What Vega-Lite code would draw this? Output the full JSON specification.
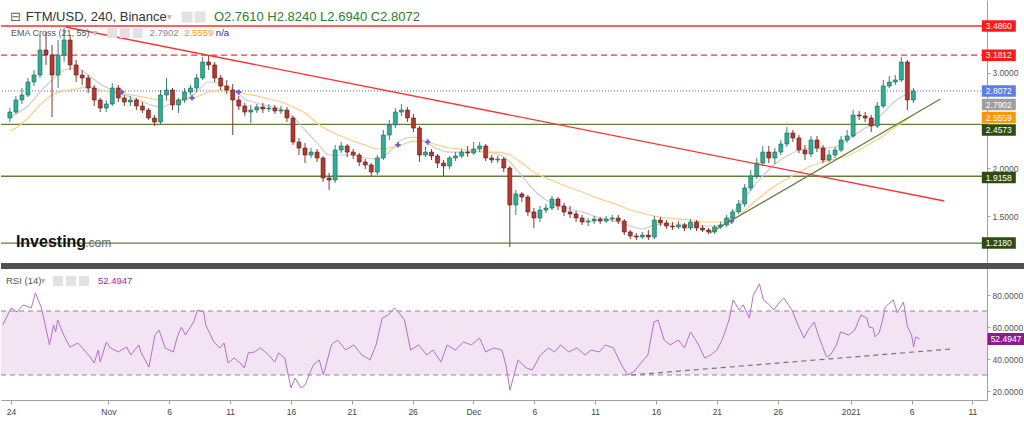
{
"$schema": "https://vega.github.io/schema/vega-lite/v6.json",
"padding": 0,
"background": "#ffffff",
"spacing": 0,
"config": {"view": {"stroke": null}, "font": "Liberation Sans"},
"datasets": {
"candles": [
{"t":"2020-10-23T12:00Z","o":2.525,"h":2.629,"l":2.483,"c":2.587},
{"t":"2020-10-24T00:00Z","o":2.587,"h":2.755,"l":2.567,"c":2.713},
{"t":"2020-10-24T12:00Z","o":2.713,"h":2.838,"l":2.671,"c":2.765},
{"t":"2020-10-25T00:00Z","o":2.765,"h":2.943,"l":2.744,"c":2.901},
{"t":"2020-10-25T12:00Z","o":2.901,"h":3.026,"l":2.859,"c":2.974},
{"t":"2020-10-26T00:00Z","o":2.974,"h":3.392,"l":2.943,"c":3.235},
{"t":"2020-10-26T12:00Z","o":3.235,"h":3.423,"l":3.079,"c":3.183},
{"t":"2020-10-27T00:00Z","o":3.183,"h":3.288,"l":2.535,"c":2.974},
{"t":"2020-10-27T12:00Z","o":2.974,"h":3.340,"l":2.838,"c":3.183},
{"t":"2020-10-28T00:00Z","o":3.183,"h":3.465,"l":3.110,"c":3.340},
{"t":"2020-10-28T12:00Z","o":3.340,"h":3.392,"l":3.026,"c":3.079},
{"t":"2020-10-29T00:00Z","o":3.079,"h":3.131,"l":2.901,"c":2.974},
{"t":"2020-10-29T12:00Z","o":2.974,"h":3.026,"l":2.870,"c":2.943},
{"t":"2020-10-30T00:00Z","o":2.943,"h":2.974,"l":2.786,"c":2.838},
{"t":"2020-10-30T12:00Z","o":2.838,"h":2.870,"l":2.650,"c":2.713},
{"t":"2020-10-31T00:00Z","o":2.713,"h":2.734,"l":2.587,"c":2.629},
{"t":"2020-10-31T12:00Z","o":2.629,"h":2.713,"l":2.587,"c":2.671},
{"t":"2020-11-01T00:00Z","o":2.671,"h":2.890,"l":2.650,"c":2.838},
{"t":"2020-11-01T12:00Z","o":2.838,"h":2.870,"l":2.692,"c":2.734},
{"t":"2020-11-02T00:00Z","o":2.734,"h":2.765,"l":2.650,"c":2.692},
{"t":"2020-11-02T12:00Z","o":2.692,"h":2.755,"l":2.650,"c":2.713},
{"t":"2020-11-03T00:00Z","o":2.713,"h":2.734,"l":2.608,"c":2.650},
{"t":"2020-11-03T12:00Z","o":2.650,"h":2.692,"l":2.577,"c":2.608},
{"t":"2020-11-04T00:00Z","o":2.608,"h":2.629,"l":2.504,"c":2.525},
{"t":"2020-11-04T12:00Z","o":2.525,"h":2.556,"l":2.441,"c":2.483},
{"t":"2020-11-05T00:00Z","o":2.483,"h":2.817,"l":2.462,"c":2.765},
{"t":"2020-11-05T12:00Z","o":2.765,"h":2.943,"l":2.713,"c":2.817},
{"t":"2020-11-06T00:00Z","o":2.817,"h":2.838,"l":2.608,"c":2.661},
{"t":"2020-11-06T12:00Z","o":2.661,"h":2.734,"l":2.577,"c":2.713},
{"t":"2020-11-07T00:00Z","o":2.713,"h":2.838,"l":2.681,"c":2.796},
{"t":"2020-11-07T12:00Z","o":2.796,"h":2.870,"l":2.765,"c":2.838},
{"t":"2020-11-08T00:00Z","o":2.838,"h":2.984,"l":2.796,"c":2.943},
{"t":"2020-11-08T12:00Z","o":2.943,"h":3.162,"l":2.922,"c":3.110},
{"t":"2020-11-09T00:00Z","o":3.110,"h":3.173,"l":3.026,"c":3.079},
{"t":"2020-11-09T12:00Z","o":3.079,"h":3.110,"l":2.901,"c":2.943},
{"t":"2020-11-10T00:00Z","o":2.943,"h":2.974,"l":2.817,"c":2.859},
{"t":"2020-11-10T12:00Z","o":2.859,"h":2.922,"l":2.776,"c":2.817},
{"t":"2020-11-11T00:00Z","o":2.817,"h":2.880,"l":2.347,"c":2.713},
{"t":"2020-11-11T12:00Z","o":2.713,"h":2.755,"l":2.608,"c":2.650},
{"t":"2020-11-12T00:00Z","o":2.650,"h":2.681,"l":2.546,"c":2.587},
{"t":"2020-11-12T12:00Z","o":2.587,"h":2.661,"l":2.472,"c":2.608},
{"t":"2020-11-13T00:00Z","o":2.608,"h":2.671,"l":2.577,"c":2.640},
{"t":"2020-11-13T12:00Z","o":2.640,"h":2.681,"l":2.577,"c":2.619},
{"t":"2020-11-14T00:00Z","o":2.619,"h":2.671,"l":2.587,"c":2.629},
{"t":"2020-11-14T12:00Z","o":2.629,"h":2.661,"l":2.567,"c":2.598},
{"t":"2020-11-15T00:00Z","o":2.598,"h":2.650,"l":2.567,"c":2.608},
{"t":"2020-11-15T12:00Z","o":2.608,"h":2.640,"l":2.483,"c":2.525},
{"t":"2020-11-16T00:00Z","o":2.525,"h":2.546,"l":2.243,"c":2.274},
{"t":"2020-11-16T12:00Z","o":2.274,"h":2.316,"l":2.138,"c":2.211},
{"t":"2020-11-17T00:00Z","o":2.211,"h":2.264,"l":2.054,"c":2.138},
{"t":"2020-11-17T12:00Z","o":2.138,"h":2.211,"l":2.107,"c":2.169},
{"t":"2020-11-18T00:00Z","o":2.169,"h":2.201,"l":2.065,"c":2.107},
{"t":"2020-11-18T12:00Z","o":2.107,"h":2.128,"l":1.856,"c":1.898},
{"t":"2020-11-19T00:00Z","o":1.898,"h":1.950,"l":1.772,"c":1.877},
{"t":"2020-11-19T12:00Z","o":1.877,"h":2.243,"l":1.846,"c":2.190},
{"t":"2020-11-20T00:00Z","o":2.190,"h":2.274,"l":2.159,"c":2.232},
{"t":"2020-11-20T12:00Z","o":2.232,"h":2.253,"l":2.117,"c":2.169},
{"t":"2020-11-21T00:00Z","o":2.169,"h":2.201,"l":2.096,"c":2.138},
{"t":"2020-11-21T12:00Z","o":2.138,"h":2.159,"l":2.023,"c":2.065},
{"t":"2020-11-22T00:00Z","o":2.065,"h":2.096,"l":1.992,"c":2.034},
{"t":"2020-11-22T12:00Z","o":2.034,"h":2.054,"l":1.919,"c":1.960},
{"t":"2020-11-23T00:00Z","o":1.960,"h":2.138,"l":1.929,"c":2.107},
{"t":"2020-11-23T12:00Z","o":2.107,"h":2.399,"l":2.086,"c":2.347},
{"t":"2020-11-24T00:00Z","o":2.347,"h":2.504,"l":2.295,"c":2.452},
{"t":"2020-11-24T12:00Z","o":2.452,"h":2.629,"l":2.420,"c":2.587},
{"t":"2020-11-25T00:00Z","o":2.587,"h":2.671,"l":2.546,"c":2.608},
{"t":"2020-11-25T12:00Z","o":2.608,"h":2.640,"l":2.483,"c":2.525},
{"t":"2020-11-26T00:00Z","o":2.525,"h":2.567,"l":2.378,"c":2.420},
{"t":"2020-11-26T12:00Z","o":2.420,"h":2.441,"l":2.065,"c":2.138},
{"t":"2020-11-27T00:00Z","o":2.138,"h":2.222,"l":2.117,"c":2.169},
{"t":"2020-11-27T12:00Z","o":2.169,"h":2.201,"l":2.086,"c":2.128},
{"t":"2020-11-28T00:00Z","o":2.128,"h":2.149,"l":2.002,"c":2.054},
{"t":"2020-11-28T12:00Z","o":2.054,"h":2.086,"l":1.908,"c":2.023},
{"t":"2020-11-29T00:00Z","o":2.023,"h":2.128,"l":1.992,"c":2.107},
{"t":"2020-11-29T12:00Z","o":2.107,"h":2.169,"l":2.075,"c":2.128},
{"t":"2020-11-30T00:00Z","o":2.128,"h":2.201,"l":2.107,"c":2.169},
{"t":"2020-11-30T12:00Z","o":2.169,"h":2.232,"l":2.117,"c":2.159},
{"t":"2020-12-01T00:00Z","o":2.159,"h":2.274,"l":2.138,"c":2.201},
{"t":"2020-12-01T12:00Z","o":2.201,"h":2.274,"l":2.169,"c":2.232},
{"t":"2020-12-02T00:00Z","o":2.232,"h":2.253,"l":2.075,"c":2.107},
{"t":"2020-12-02T12:00Z","o":2.107,"h":2.138,"l":2.054,"c":2.086},
{"t":"2020-12-03T00:00Z","o":2.086,"h":2.128,"l":2.054,"c":2.096},
{"t":"2020-12-03T12:00Z","o":2.096,"h":2.117,"l":1.960,"c":2.002},
{"t":"2020-12-04T00:00Z","o":2.002,"h":2.023,"l":1.177,"c":1.616},
{"t":"2020-12-04T12:00Z","o":1.616,"h":1.772,"l":1.511,"c":1.731},
{"t":"2020-12-05T00:00Z","o":1.731,"h":1.752,"l":1.647,"c":1.699},
{"t":"2020-12-05T12:00Z","o":1.699,"h":1.720,"l":1.501,"c":1.543},
{"t":"2020-12-06T00:00Z","o":1.543,"h":1.584,"l":1.375,"c":1.480},
{"t":"2020-12-06T12:00Z","o":1.480,"h":1.605,"l":1.438,"c":1.563},
{"t":"2020-12-07T00:00Z","o":1.563,"h":1.626,"l":1.532,"c":1.584},
{"t":"2020-12-07T12:00Z","o":1.584,"h":1.710,"l":1.563,"c":1.678},
{"t":"2020-12-08T00:00Z","o":1.678,"h":1.699,"l":1.563,"c":1.605},
{"t":"2020-12-08T12:00Z","o":1.605,"h":1.637,"l":1.501,"c":1.543},
{"t":"2020-12-09T00:00Z","o":1.543,"h":1.605,"l":1.480,"c":1.522},
{"t":"2020-12-09T12:00Z","o":1.522,"h":1.553,"l":1.438,"c":1.480},
{"t":"2020-12-10T00:00Z","o":1.480,"h":1.511,"l":1.407,"c":1.438},
{"t":"2020-12-10T12:00Z","o":1.438,"h":1.480,"l":1.396,"c":1.448},
{"t":"2020-12-11T00:00Z","o":1.448,"h":1.501,"l":1.417,"c":1.469},
{"t":"2020-12-11T12:00Z","o":1.469,"h":1.490,"l":1.417,"c":1.448},
{"t":"2020-12-12T00:00Z","o":1.448,"h":1.501,"l":1.428,"c":1.469},
{"t":"2020-12-12T12:00Z","o":1.469,"h":1.511,"l":1.438,"c":1.480},
{"t":"2020-12-13T00:00Z","o":1.480,"h":1.511,"l":1.417,"c":1.448},
{"t":"2020-12-13T12:00Z","o":1.448,"h":1.469,"l":1.302,"c":1.334},
{"t":"2020-12-14T00:00Z","o":1.334,"h":1.354,"l":1.260,"c":1.292},
{"t":"2020-12-14T12:00Z","o":1.292,"h":1.323,"l":1.250,"c":1.281},
{"t":"2020-12-15T00:00Z","o":1.281,"h":1.334,"l":1.260,"c":1.302},
{"t":"2020-12-15T12:00Z","o":1.302,"h":1.354,"l":1.250,"c":1.281},
{"t":"2020-12-16T00:00Z","o":1.281,"h":1.501,"l":1.260,"c":1.459},
{"t":"2020-12-16T12:00Z","o":1.459,"h":1.490,"l":1.396,"c":1.428},
{"t":"2020-12-17T00:00Z","o":1.428,"h":1.459,"l":1.365,"c":1.396},
{"t":"2020-12-17T12:00Z","o":1.396,"h":1.438,"l":1.354,"c":1.386},
{"t":"2020-12-18T00:00Z","o":1.386,"h":1.448,"l":1.365,"c":1.407},
{"t":"2020-12-18T12:00Z","o":1.407,"h":1.428,"l":1.344,"c":1.375},
{"t":"2020-12-19T00:00Z","o":1.375,"h":1.469,"l":1.354,"c":1.438},
{"t":"2020-12-19T12:00Z","o":1.438,"h":1.459,"l":1.344,"c":1.375},
{"t":"2020-12-20T00:00Z","o":1.375,"h":1.407,"l":1.334,"c":1.354},
{"t":"2020-12-20T12:00Z","o":1.354,"h":1.375,"l":1.313,"c":1.334},
{"t":"2020-12-21T00:00Z","o":1.334,"h":1.407,"l":1.313,"c":1.386},
{"t":"2020-12-21T12:00Z","o":1.386,"h":1.438,"l":1.365,"c":1.407},
{"t":"2020-12-22T00:00Z","o":1.407,"h":1.511,"l":1.386,"c":1.480},
{"t":"2020-12-22T12:00Z","o":1.480,"h":1.574,"l":1.448,"c":1.543},
{"t":"2020-12-23T00:00Z","o":1.543,"h":1.668,"l":1.522,"c":1.626},
{"t":"2020-12-23T12:00Z","o":1.626,"h":1.835,"l":1.595,"c":1.793},
{"t":"2020-12-24T00:00Z","o":1.793,"h":1.981,"l":1.762,"c":1.919},
{"t":"2020-12-24T12:00Z","o":1.919,"h":2.107,"l":1.887,"c":2.054},
{"t":"2020-12-25T00:00Z","o":2.054,"h":2.232,"l":2.023,"c":2.169},
{"t":"2020-12-25T12:00Z","o":2.169,"h":2.232,"l":2.054,"c":2.107},
{"t":"2020-12-26T00:00Z","o":2.107,"h":2.211,"l":2.044,"c":2.169},
{"t":"2020-12-26T12:00Z","o":2.169,"h":2.295,"l":2.138,"c":2.253},
{"t":"2020-12-27T00:00Z","o":2.253,"h":2.431,"l":2.222,"c":2.368},
{"t":"2020-12-27T12:00Z","o":2.368,"h":2.399,"l":2.274,"c":2.316},
{"t":"2020-12-28T00:00Z","o":2.316,"h":2.347,"l":2.159,"c":2.190},
{"t":"2020-12-28T12:00Z","o":2.190,"h":2.243,"l":2.086,"c":2.149},
{"t":"2020-12-29T00:00Z","o":2.149,"h":2.337,"l":2.117,"c":2.295},
{"t":"2020-12-29T12:00Z","o":2.295,"h":2.337,"l":2.169,"c":2.211},
{"t":"2020-12-30T00:00Z","o":2.211,"h":2.243,"l":2.054,"c":2.086},
{"t":"2020-12-30T12:00Z","o":2.086,"h":2.190,"l":2.065,"c":2.138},
{"t":"2020-12-31T00:00Z","o":2.138,"h":2.222,"l":2.107,"c":2.190},
{"t":"2020-12-31T12:00Z","o":2.190,"h":2.337,"l":2.169,"c":2.295},
{"t":"2021-01-01T00:00Z","o":2.295,"h":2.399,"l":2.264,"c":2.337},
{"t":"2021-01-01T12:00Z","o":2.337,"h":2.608,"l":2.316,"c":2.556},
{"t":"2021-01-02T00:00Z","o":2.556,"h":2.598,"l":2.504,"c":2.546},
{"t":"2021-01-02T12:00Z","o":2.546,"h":2.587,"l":2.483,"c":2.525},
{"t":"2021-01-03T00:00Z","o":2.525,"h":2.556,"l":2.378,"c":2.441},
{"t":"2021-01-03T12:00Z","o":2.441,"h":2.692,"l":2.420,"c":2.650},
{"t":"2021-01-04T00:00Z","o":2.650,"h":2.922,"l":2.629,"c":2.859},
{"t":"2021-01-04T12:00Z","o":2.859,"h":2.964,"l":2.838,"c":2.901},
{"t":"2021-01-05T00:00Z","o":2.901,"h":2.974,"l":2.870,"c":2.922},
{"t":"2021-01-05T12:00Z","o":2.922,"h":3.162,"l":2.901,"c":3.110},
{"t":"2021-01-06T00:00Z","o":3.110,"h":3.131,"l":2.608,"c":2.713},
{"t":"2021-01-06T12:00Z","o":2.713,"h":2.838,"l":2.681,"c":2.8072}
],
"ema": [
{"t":"2020-10-23T12:00Z","e21":2.525,"e55":2.389},
{"t":"2020-10-24T00:00Z","e21":2.567,"e55":2.420},
{"t":"2020-10-25T00:00Z","e21":2.650,"e55":2.525},
{"t":"2020-10-26T00:00Z","e21":2.796,"e55":2.661},
{"t":"2020-10-27T00:00Z","e21":2.922,"e55":2.765},
{"t":"2020-10-28T00:00Z","e21":3.026,"e55":2.807},
{"t":"2020-10-29T00:00Z","e21":3.047,"e55":2.828},
{"t":"2020-10-30T00:00Z","e21":2.974,"e55":2.849},
{"t":"2020-10-31T00:00Z","e21":2.880,"e55":2.817},
{"t":"2020-11-01T00:00Z","e21":2.817,"e55":2.796},
{"t":"2020-11-02T00:00Z","e21":2.765,"e55":2.776},
{"t":"2020-11-03T00:00Z","e21":2.723,"e55":2.755},
{"t":"2020-11-04T00:00Z","e21":2.671,"e55":2.734},
{"t":"2020-11-05T00:00Z","e21":2.640,"e55":2.713},
{"t":"2020-11-06T00:00Z","e21":2.681,"e55":2.713},
{"t":"2020-11-07T00:00Z","e21":2.713,"e55":2.723},
{"t":"2020-11-08T00:00Z","e21":2.796,"e55":2.744},
{"t":"2020-11-09T00:00Z","e21":2.901,"e55":2.796},
{"t":"2020-11-10T00:00Z","e21":2.880,"e55":2.817},
{"t":"2020-11-11T00:00Z","e21":2.828,"e55":2.807},
{"t":"2020-11-12T00:00Z","e21":2.723,"e55":2.776},
{"t":"2020-11-13T00:00Z","e21":2.681,"e55":2.755},
{"t":"2020-11-14T00:00Z","e21":2.650,"e55":2.723},
{"t":"2020-11-15T00:00Z","e21":2.619,"e55":2.692},
{"t":"2020-11-16T00:00Z","e21":2.535,"e55":2.640},
{"t":"2020-11-17T00:00Z","e21":2.399,"e55":2.577},
{"t":"2020-11-18T00:00Z","e21":2.264,"e55":2.472},
{"t":"2020-11-19T00:00Z","e21":2.138,"e55":2.389},
{"t":"2020-11-20T00:00Z","e21":2.138,"e55":2.337},
{"t":"2020-11-21T00:00Z","e21":2.138,"e55":2.284},
{"t":"2020-11-22T00:00Z","e21":2.107,"e55":2.243},
{"t":"2020-11-23T00:00Z","e21":2.096,"e55":2.201},
{"t":"2020-11-24T00:00Z","e21":2.169,"e55":2.211},
{"t":"2020-11-25T00:00Z","e21":2.295,"e55":2.243},
{"t":"2020-11-26T00:00Z","e21":2.326,"e55":2.284},
{"t":"2020-11-27T00:00Z","e21":2.274,"e55":2.274},
{"t":"2020-11-28T00:00Z","e21":2.201,"e55":2.243},
{"t":"2020-11-29T00:00Z","e21":2.169,"e55":2.211},
{"t":"2020-11-30T00:00Z","e21":2.169,"e55":2.201},
{"t":"2020-12-01T00:00Z","e21":2.180,"e55":2.180},
{"t":"2020-12-02T00:00Z","e21":2.169,"e55":2.169},
{"t":"2020-12-03T00:00Z","e21":2.149,"e55":2.169},
{"t":"2020-12-04T00:00Z","e21":2.065,"e55":2.138},
{"t":"2020-12-05T00:00Z","e21":1.919,"e55":2.054},
{"t":"2020-12-06T00:00Z","e21":1.772,"e55":1.960},
{"t":"2020-12-07T00:00Z","e21":1.668,"e55":1.898},
{"t":"2020-12-08T00:00Z","e21":1.616,"e55":1.846},
{"t":"2020-12-09T00:00Z","e21":1.574,"e55":1.793},
{"t":"2020-12-10T00:00Z","e21":1.543,"e55":1.752},
{"t":"2020-12-11T00:00Z","e21":1.501,"e55":1.699},
{"t":"2020-12-12T00:00Z","e21":1.469,"e55":1.657},
{"t":"2020-12-13T00:00Z","e21":1.438,"e55":1.616},
{"t":"2020-12-14T00:00Z","e21":1.396,"e55":1.563},
{"t":"2020-12-15T00:00Z","e21":1.365,"e55":1.532},
{"t":"2020-12-16T00:00Z","e21":1.407,"e55":1.501},
{"t":"2020-12-17T00:00Z","e21":1.417,"e55":1.480},
{"t":"2020-12-18T00:00Z","e21":1.417,"e55":1.469},
{"t":"2020-12-19T00:00Z","e21":1.407,"e55":1.459},
{"t":"2020-12-20T00:00Z","e21":1.396,"e55":1.438},
{"t":"2020-12-21T00:00Z","e21":1.396,"e55":1.438},
{"t":"2020-12-22T00:00Z","e21":1.438,"e55":1.448},
{"t":"2020-12-23T00:00Z","e21":1.616,"e55":1.501},
{"t":"2020-12-24T00:00Z","e21":1.772,"e55":1.616},
{"t":"2020-12-25T00:00Z","e21":1.919,"e55":1.720},
{"t":"2020-12-26T00:00Z","e21":2.044,"e55":1.814},
{"t":"2020-12-27T00:00Z","e21":2.128,"e55":1.887},
{"t":"2020-12-28T00:00Z","e21":2.190,"e55":1.960},
{"t":"2020-12-29T00:00Z","e21":2.211,"e55":2.023},
{"t":"2020-12-30T00:00Z","e21":2.211,"e55":2.065},
{"t":"2020-12-31T00:00Z","e21":2.222,"e55":2.096},
{"t":"2021-01-01T00:00Z","e21":2.295,"e55":2.128},
{"t":"2021-01-02T00:00Z","e21":2.378,"e55":2.190},
{"t":"2021-01-03T00:00Z","e21":2.462,"e55":2.264},
{"t":"2021-01-04T00:00Z","e21":2.577,"e55":2.337},
{"t":"2021-01-05T00:00Z","e21":2.702,"e55":2.431},
{"t":"2021-01-06T00:00Z","e21":2.776,"e55":2.514},
{"t":"2021-01-06T12:00Z","e21":2.7902,"e55":2.5559}
],
"rsi": [
{"t":"2020-10-23T08:00Z","r":61.3},{"t":"2020-10-24T00:00Z","r":71.9},{"t":"2020-10-24T12:00Z","r":69.4},{"t":"2020-10-25T00:00Z","r":73.8},{"t":"2020-10-25T16:00Z","r":71.9},{"t":"2020-10-26T00:00Z","r":81.3},{"t":"2020-10-26T12:00Z","r":71.9},{"t":"2020-10-27T04:00Z","r":48.8},{"t":"2020-10-27T12:00Z","r":61.3},{"t":"2020-10-27T16:00Z","r":56.9},{"t":"2020-10-27T20:00Z","r":64.4},{"t":"2020-10-28T08:00Z","r":55},{"t":"2020-10-28T20:00Z","r":47.5},{"t":"2020-10-29T12:00Z","r":50},{"t":"2020-10-30T12:00Z","r":41.3},{"t":"2020-10-30T20:00Z","r":37.5},{"t":"2020-10-31T04:00Z","r":45.6},{"t":"2020-10-31T08:00Z","r":38.1},{"t":"2020-10-31T20:00Z","r":50.6},{"t":"2020-11-01T04:00Z","r":46.9},{"t":"2020-11-01T20:00Z","r":44.4},{"t":"2020-11-02T12:00Z","r":47.5},{"t":"2020-11-02T20:00Z","r":42.5},{"t":"2020-11-03T12:00Z","r":48.8},{"t":"2020-11-03T16:00Z","r":44.4},{"t":"2020-11-04T08:00Z","r":35},{"t":"2020-11-04T20:00Z","r":55},{"t":"2020-11-05T04:00Z","r":58.1},{"t":"2020-11-05T16:00Z","r":46.9},{"t":"2020-11-06T08:00Z","r":44.4},{"t":"2020-11-06T16:00Z","r":53.8},{"t":"2020-11-07T00:00Z","r":60},{"t":"2020-11-07T08:00Z","r":55},{"t":"2020-11-08T00:00Z","r":63.1},{"t":"2020-11-08T08:00Z","r":70.6},{"t":"2020-11-08T20:00Z","r":69.4},{"t":"2020-11-09T00:00Z","r":61.3},{"t":"2020-11-09T16:00Z","r":50.6},{"t":"2020-11-10T04:00Z","r":46.9},{"t":"2020-11-10T12:00Z","r":50},{"t":"2020-11-10T20:00Z","r":37.5},{"t":"2020-11-11T08:00Z","r":40.6},{"t":"2020-11-11T20:00Z","r":37.5},{"t":"2020-11-12T04:00Z","r":34.4},{"t":"2020-11-12T12:00Z","r":43.8},{"t":"2020-11-13T00:00Z","r":44.4},{"t":"2020-11-13T12:00Z","r":46.9},{"t":"2020-11-14T04:00Z","r":42.5},{"t":"2020-11-14T16:00Z","r":38.1},{"t":"2020-11-15T00:00Z","r":43.8},{"t":"2020-11-15T12:00Z","r":40.6},{"t":"2020-11-16T00:00Z","r":21.9},{"t":"2020-11-16T08:00Z","r":28.1},{"t":"2020-11-16T20:00Z","r":21.9},{"t":"2020-11-17T04:00Z","r":23.8},{"t":"2020-11-17T20:00Z","r":36.3},{"t":"2020-11-18T08:00Z","r":39.4},{"t":"2020-11-18T16:00Z","r":30},{"t":"2020-11-19T08:00Z","r":48.8},{"t":"2020-11-19T20:00Z","r":51.9},{"t":"2020-11-20T12:00Z","r":45.6},{"t":"2020-11-21T04:00Z","r":48.8},{"t":"2020-11-21T20:00Z","r":42.5},{"t":"2020-11-22T12:00Z","r":39.4},{"t":"2020-11-23T00:00Z","r":48.8},{"t":"2020-11-23T12:00Z","r":65.6},{"t":"2020-11-24T00:00Z","r":67.5},{"t":"2020-11-24T12:00Z","r":71.9},{"t":"2020-11-24T20:00Z","r":69.4},{"t":"2020-11-25T08:00Z","r":64.4},{"t":"2020-11-25T20:00Z","r":45.6},{"t":"2020-11-26T12:00Z","r":48.8},{"t":"2020-11-27T04:00Z","r":42.5},{"t":"2020-11-27T16:00Z","r":45.6},{"t":"2020-11-28T08:00Z","r":38.1},{"t":"2020-11-28T20:00Z","r":48.8},{"t":"2020-11-29T12:00Z","r":45.6},{"t":"2020-11-30T04:00Z","r":50.6},{"t":"2020-11-30T20:00Z","r":48.8},{"t":"2020-12-01T12:00Z","r":53.1},{"t":"2020-12-02T00:00Z","r":44.4},{"t":"2020-12-02T16:00Z","r":46.9},{"t":"2020-12-03T08:00Z","r":45.6},{"t":"2020-12-03T16:00Z","r":36.3},{"t":"2020-12-04T00:00Z","r":20.6},{"t":"2020-12-04T08:00Z","r":30},{"t":"2020-12-04T16:00Z","r":39.4},{"t":"2020-12-05T08:00Z","r":34.4},{"t":"2020-12-05T20:00Z","r":33.1},{"t":"2020-12-06T12:00Z","r":42.5},{"t":"2020-12-07T04:00Z","r":46.9},{"t":"2020-12-07T16:00Z","r":44.4},{"t":"2020-12-08T04:00Z","r":48.8},{"t":"2020-12-08T20:00Z","r":44.4},{"t":"2020-12-09T12:00Z","r":46.9},{"t":"2020-12-10T04:00Z","r":42.5},{"t":"2020-12-10T16:00Z","r":45.6},{"t":"2020-12-11T08:00Z","r":44.4},{"t":"2020-12-11T20:00Z","r":48.8},{"t":"2020-12-12T12:00Z","r":46.9},{"t":"2020-12-13T04:00Z","r":36.3},{"t":"2020-12-13T16:00Z","r":30},{"t":"2020-12-14T04:00Z","r":31.9},{"t":"2020-12-14T20:00Z","r":38.1},{"t":"2020-12-15T08:00Z","r":42.5},{"t":"2020-12-15T20:00Z","r":63.1},{"t":"2020-12-16T04:00Z","r":64.4},{"t":"2020-12-16T16:00Z","r":51.9},{"t":"2020-12-17T04:00Z","r":48.8},{"t":"2020-12-17T20:00Z","r":51.9},{"t":"2020-12-18T08:00Z","r":46.9},{"t":"2020-12-18T20:00Z","r":56.9},{"t":"2020-12-19T12:00Z","r":48.8},{"t":"2020-12-20T00:00Z","r":40.6},{"t":"2020-12-20T12:00Z","r":42.5},{"t":"2020-12-21T00:00Z","r":45.6},{"t":"2020-12-21T12:00Z","r":53.1},{"t":"2020-12-22T00:00Z","r":64.4},{"t":"2020-12-22T08:00Z","r":76.9},{"t":"2020-12-22T20:00Z","r":70.6},{"t":"2020-12-23T04:00Z","r":73.8},{"t":"2020-12-23T16:00Z","r":65.6},{"t":"2020-12-24T00:00Z","r":80},{"t":"2020-12-24T12:00Z","r":86.9},{"t":"2020-12-24T20:00Z","r":76.9},{"t":"2020-12-25T08:00Z","r":73.8},{"t":"2020-12-25T16:00Z","r":70.6},{"t":"2020-12-26T04:00Z","r":75.6},{"t":"2020-12-26T12:00Z","r":78.1},{"t":"2020-12-27T04:00Z","r":70.6},{"t":"2020-12-27T16:00Z","r":61.3},{"t":"2020-12-28T04:00Z","r":53.1},{"t":"2020-12-28T12:00Z","r":58.1},{"t":"2020-12-29T00:00Z","r":63.1},{"t":"2020-12-29T08:00Z","r":55},{"t":"2020-12-30T00:00Z","r":41.3},{"t":"2020-12-30T08:00Z","r":42.5},{"t":"2020-12-30T20:00Z","r":48.8},{"t":"2020-12-31T04:00Z","r":56.9},{"t":"2020-12-31T20:00Z","r":55},{"t":"2021-01-01T08:00Z","r":58.1},{"t":"2021-01-01T16:00Z","r":64.4},{"t":"2021-01-01T20:00Z","r":67.5},{"t":"2021-01-02T08:00Z","r":65.6},{"t":"2021-01-02T12:00Z","r":60},{"t":"2021-01-02T20:00Z","r":59.4},{"t":"2021-01-03T00:00Z","r":53.8},{"t":"2021-01-03T08:00Z","r":56.3},{"t":"2021-01-03T16:00Z","r":65.6},{"t":"2021-01-03T20:00Z","r":72.5},{"t":"2021-01-04T12:00Z","r":76.9},{"t":"2021-01-04T20:00Z","r":68.8},{"t":"2021-01-05T08:00Z","r":75.6},{"t":"2021-01-05T16:00Z","r":60},{"t":"2021-01-06T00:00Z","r":55},{"t":"2021-01-06T04:00Z","r":47.5},{"t":"2021-01-06T08:00Z","r":53.8},{"t":"2021-01-06T16:00Z","r":52.4947}
],
"pricetags": [
{"t":"2021-01-13T14:15Z","ly":3.486,"v":"3.4860","k":"resistance"},
{"t":"2021-01-13T14:15Z","ly":3.1812,"v":"3.1812","k":"resistance"},
{"t":"2021-01-13T14:15Z","ly":2.8072,"v":"2.8072","k":"last"},
{"t":"2021-01-13T14:15Z","ly":2.6657,"v":"2.7902","k":"ema21"},
{"t":"2021-01-13T14:15Z","ly":2.5299,"v":"2.5559","k":"ema55"},
{"t":"2021-01-13T14:15Z","ly":2.3993,"v":"2.4573","k":"support"},
{"t":"2021-01-13T14:15Z","ly":1.9029,"v":"1.9158","k":"support"},
{"t":"2021-01-13T14:15Z","ly":1.218,"v":"1.2180","k":"support"}
]
},
"vconcat": [
{
"width": 986,
"height": 262,
"layer": [
{"data": {"values": [{}]}, "mark": {"type": "rule", "color": "#ff2b2b", "strokeWidth": 1.3},
 "encoding": {"y": {"datum": 3.486, "type": "quantitative", "scale": {"domain": [1.02, 3.7577], "nice": false, "zero": false},
  "axis": {"orient": "right", "values": [1.5, 2, 3], "format": ".4f", "title": null, "grid": false, "domainColor": "#a0a0a0", "tickColor": "#a0a0a0", "tickSize": 3, "labelColor": "#555555", "labelFontSize": 8.5, "labelFont": "Liberation Sans", "labelPadding": 2}}}},
{"data": {"values": [{}]}, "mark": {"type": "rule", "color": "#ff3030", "strokeWidth": 1.2, "strokeDash": [6, 4]},
 "encoding": {"y": {"datum": 3.1812, "type": "quantitative", "scale": {"domain": [1.02, 3.7577], "nice": false, "zero": false}}}},
{"data": {"values": [{}]}, "mark": {"type": "rule", "color": "#4a64e8", "strokeWidth": 1, "strokeDash": [1, 2]},
 "encoding": {"y": {"datum": 2.8072, "type": "quantitative", "scale": {"domain": [1.02, 3.7577], "nice": false, "zero": false}}}},
{"data": {"values": [{"p": 2.4573}, {"p": 1.9158}, {"p": 1.218}]}, "mark": {"type": "rule", "color": "#5f7f41", "strokeWidth": 1.3},
 "encoding": {"y": {"field": "p", "type": "quantitative", "scale": {"domain": [1.02, 3.7577], "nice": false, "zero": false}}}},
{"data": {"name": "ema"}, "mark": {"type": "line", "color": "#cdcdcd", "strokeWidth": 1.2, "interpolate": "monotone"},
 "encoding": {"x": {"field": "t", "type": "temporal", "scale": {"type": "utc", "domain": [1603426560000, 1610426640000]}, "axis": null},
  "y": {"field": "e21", "type": "quantitative", "scale": {"domain": [1.02, 3.7577], "nice": false, "zero": false}}}},
{"data": {"name": "ema"}, "mark": {"type": "line", "color": "#ffcd88", "strokeWidth": 1.2, "interpolate": "monotone"},
 "encoding": {"x": {"field": "t", "type": "temporal", "scale": {"type": "utc", "domain": [1603426560000, 1610426640000]}, "axis": null},
  "y": {"field": "e55", "type": "quantitative", "scale": {"domain": [1.02, 3.7577], "nice": false, "zero": false}}}},
{"data": {"name": "candles"}, "mark": {"type": "rule", "strokeWidth": 1},
 "encoding": {"x": {"field": "t", "type": "temporal", "scale": {"type": "utc", "domain": [1603426560000, 1610426640000]}, "axis": null},
  "y": {"field": "l", "type": "quantitative", "scale": {"domain": [1.02, 3.7577], "nice": false, "zero": false}},
  "y2": {"field": "h"},
  "color": {"condition": {"test": "datum.c >= datum.o", "value": "#3d7f70"}, "value": "#7e3a34"}}},
{"data": {"name": "candles"}, "mark": {"type": "bar", "size": 4, "strokeWidth": 0.6},
 "encoding": {"x": {"field": "t", "type": "temporal", "scale": {"type": "utc", "domain": [1603426560000, 1610426640000]}, "axis": null},
  "y": {"field": "o", "type": "quantitative", "scale": {"domain": [1.02, 3.7577], "nice": false, "zero": false}},
  "y2": {"field": "c"},
  "fill": {"condition": {"test": "datum.c >= datum.o", "value": "#2bb097"}, "value": "#b5382e"},
  "stroke": {"condition": {"test": "datum.c >= datum.o", "value": "#1f5f52"}, "value": "#5e1d18"}}},
{"data": {"values": [{"t":"2020-11-01T19:00Z","p":2.796},{"t":"2020-11-07T15:00Z","p":2.734},{"t":"2020-11-11T11:43Z","p":2.796},{"t":"2020-11-24T17:13Z","p":2.243},{"t":"2020-11-27T04:22Z","p":2.274},{"t":"2020-12-22T09:48Z","p":1.448}]},
 "mark": {"type": "point", "shape": "cross", "filled": true, "size": 28, "color": "#6c60d8", "opacity": 1},
 "encoding": {"x": {"field": "t", "type": "temporal", "scale": {"type": "utc", "domain": [1603426560000, 1610426640000]}, "axis": null},
  "y": {"field": "p", "type": "quantitative", "scale": {"domain": [1.02, 3.7577], "nice": false, "zero": false}}}},
{"data": {"values": [{"t":"2020-10-28T02:40Z","p":3.4755},{"t":"2021-01-09T01:45Z","p":1.6574}]},
 "mark": {"type": "line", "color": "#ff3333", "strokeWidth": 1.3},
 "encoding": {"x": {"field": "t", "type": "temporal", "scale": {"type": "utc", "domain": [1603426560000, 1610426640000]}, "axis": null},
  "y": {"field": "p", "type": "quantitative", "scale": {"domain": [1.02, 3.7577], "nice": false, "zero": false}}}},
{"data": {"values": [{"t":"2020-12-20T14:24Z","p":1.323},{"t":"2021-01-08T18:00Z","p":2.723}]},
 "mark": {"type": "line", "color": "#5f7f3c", "strokeWidth": 1.3},
 "encoding": {"x": {"field": "t", "type": "temporal", "scale": {"type": "utc", "domain": [1603426560000, 1610426640000]}, "axis": null},
  "y": {"field": "p", "type": "quantitative", "scale": {"domain": [1.02, 3.7577], "nice": false, "zero": false}}}},
{"data": {"values": [{"t":"2020-11-07T05:10Z","p":3.58},{"t":"2020-11-08T06:49Z","p":3.58}]},
 "mark": {"type": "point", "shape": "square", "filled": true, "size": 120, "color": "#e2e2e2", "opacity": 1},
 "encoding": {"x": {"field": "t", "type": "temporal", "scale": {"type": "utc", "domain": [1603426560000, 1610426640000]}, "axis": null},
  "y": {"field": "p", "type": "quantitative", "scale": {"domain": [1.02, 3.7577], "nice": false, "zero": false}}}},
{"data": {"values": [{"t":"2020-10-31T23:17Z","p":3.413},{"t":"2020-11-02T00:56Z","p":3.413},{"t":"2020-11-03T02:34Z","p":3.413}]},
 "mark": {"type": "point", "shape": "square", "filled": true, "size": 100, "color": "#e2e2e2", "opacity": 1},
 "encoding": {"x": {"field": "t", "type": "temporal", "scale": {"type": "utc", "domain": [1603426560000, 1610426640000]}, "axis": null},
  "y": {"field": "p", "type": "quantitative", "scale": {"domain": [1.02, 3.7577], "nice": false, "zero": false}}}},
{"data": {"values": [{"t":"2020-10-23T12:10Z","p":3.58,"s":"⊟"}]},
 "mark": {"type": "text", "align": "left", "baseline": "middle", "fontSize": 13, "color": "#666666", "font": "DejaVu Sans"},
 "encoding": {"x": {"field": "t", "type": "temporal", "scale": {"type": "utc", "domain": [1603426560000, 1610426640000]}, "axis": null},
  "y": {"field": "p", "type": "quantitative", "scale": {"domain": [1.02, 3.7577], "nice": false, "zero": false}}, "text": {"field": "s"}}},
{"data": {"values": [{"t":"2020-10-24T19:43Z","p":3.58,"s":"FTM/USD, 240, Binance"}]},
 "mark": {"type": "text", "align": "left", "baseline": "middle", "fontSize": 13, "color": "#333333"},
 "encoding": {"x": {"field": "t", "type": "temporal", "scale": {"type": "utc", "domain": [1603426560000, 1610426640000]}, "axis": null},
  "y": {"field": "p", "type": "quantitative", "scale": {"domain": [1.02, 3.7577], "nice": false, "zero": false}}, "text": {"field": "s"}}},
{"data": {"values": [{"t":"2020-11-05T17:41Z","p":3.58,"s":"▾"},{"t":"2020-10-30T13:46Z","p":3.413,"s":"▾"}]},
 "mark": {"type": "text", "align": "center", "baseline": "middle", "fontSize": 10, "color": "#bbbbbb", "font": "DejaVu Sans"},
 "encoding": {"x": {"field": "t", "type": "temporal", "scale": {"type": "utc", "domain": [1603426560000, 1610426640000]}, "axis": null},
  "y": {"field": "p", "type": "quantitative", "scale": {"domain": [1.02, 3.7577], "nice": false, "zero": false}}, "text": {"field": "s"}}},
{"data": {"values": [{"t":"2020-11-09T10:25Z","p":3.58,"s":"O2.7610 H2.8240 L2.6940 C2.8072"}]},
 "mark": {"type": "text", "align": "left", "baseline": "middle", "fontSize": 13, "color": "#2e7d32"},
 "encoding": {"x": {"field": "t", "type": "temporal", "scale": {"type": "utc", "domain": [1603426560000, 1610426640000]}, "axis": null},
  "y": {"field": "p", "type": "quantitative", "scale": {"domain": [1.02, 3.7577], "nice": false, "zero": false}}, "text": {"field": "s"}}},
{"data": {"values": [{"t":"2020-10-23T14:08Z","p":3.413,"s":"EMA Cross (21, 55)"}]},
 "mark": {"type": "text", "align": "left", "baseline": "middle", "fontSize": 9, "color": "#555555"},
 "encoding": {"x": {"field": "t", "type": "temporal", "scale": {"type": "utc", "domain": [1603426560000, 1610426640000]}, "axis": null},
  "y": {"field": "p", "type": "quantitative", "scale": {"domain": [1.02, 3.7577], "nice": false, "zero": false}}, "text": {"field": "s"}}},
{"data": {"values": [{"t":"2020-11-04T02:14Z","p":3.413,"s":"2.7902"}]},
 "mark": {"type": "text", "align": "left", "baseline": "middle", "fontSize": 9.5, "color": "#8a8a8a"},
 "encoding": {"x": {"field": "t", "type": "temporal", "scale": {"type": "utc", "domain": [1603426560000, 1610426640000]}, "axis": null},
  "y": {"field": "p", "type": "quantitative", "scale": {"domain": [1.02, 3.7577], "nice": false, "zero": false}}, "text": {"field": "s"}}},
{"data": {"values": [{"t":"2020-11-06T23:15Z","p":3.413,"s":"2.5559"}]},
 "mark": {"type": "text", "align": "left", "baseline": "middle", "fontSize": 9.5, "color": "#ff9800"},
 "encoding": {"x": {"field": "t", "type": "temporal", "scale": {"type": "utc", "domain": [1603426560000, 1610426640000]}, "axis": null},
  "y": {"field": "p", "type": "quantitative", "scale": {"domain": [1.02, 3.7577], "nice": false, "zero": false}}, "text": {"field": "s"}}},
{"data": {"values": [{"t":"2020-11-09T14:21Z","p":3.413,"s":"n/a"}]},
 "mark": {"type": "text", "align": "left", "baseline": "middle", "fontSize": 9.5, "color": "#2b2ba0"},
 "encoding": {"x": {"field": "t", "type": "temporal", "scale": {"type": "utc", "domain": [1603426560000, 1610426640000]}, "axis": null},
  "y": {"field": "p", "type": "quantitative", "scale": {"domain": [1.02, 3.7577], "nice": false, "zero": false}}, "text": {"field": "s"}}},
{"data": {"values": [{"t":"2020-10-24T00:00Z","p":1.177,"s":"Investing"}]},
 "mark": {"type": "text", "align": "left", "baseline": "alphabetic", "fontSize": 16, "fontWeight": "bold", "color": "#111111"},
 "encoding": {"x": {"field": "t", "type": "temporal", "scale": {"type": "utc", "domain": [1603426560000, 1610426640000]}, "axis": null},
  "y": {"field": "p", "type": "quantitative", "scale": {"domain": [1.02, 3.7577], "nice": false, "zero": false}}, "text": {"field": "s"}}},
{"data": {"values": [{"t":"2020-10-29T18:03Z","p":1.177,"s":".com"}]},
 "mark": {"type": "text", "align": "left", "baseline": "alphabetic", "fontSize": 12, "color": "#666666"},
 "encoding": {"x": {"field": "t", "type": "temporal", "scale": {"type": "utc", "domain": [1603426560000, 1610426640000]}, "axis": null},
  "y": {"field": "p", "type": "quantitative", "scale": {"domain": [1.02, 3.7577], "nice": false, "zero": false}}, "text": {"field": "s"}}},
{"data": {"name": "pricetags"},
 "mark": {"type": "tick", "orient": "horizontal", "size": 34, "thickness": 11.5, "opacity": 1},
 "encoding": {"x": {"field": "t", "type": "temporal", "scale": {"type": "utc", "domain": [1603426560000, 1610426640000]}, "axis": null},
  "y": {"field": "ly", "type": "quantitative", "scale": {"domain": [1.02, 3.7577], "nice": false, "zero": false}},
  "color": {"field": "k", "type": "nominal", "legend": null, "scale": {"domain": ["resistance", "last", "ema21", "ema55", "support"], "range": ["#ff1a1a", "#5b7fe6", "#9e9e9e", "#ff9800", "#2e4b12"]}}}},
{"data": {"name": "pricetags"},
 "mark": {"type": "text", "align": "center", "baseline": "middle", "fontSize": 8.5, "color": "#ffffff"},
 "encoding": {"x": {"field": "t", "type": "temporal", "scale": {"type": "utc", "domain": [1603426560000, 1610426640000]}, "axis": null},
  "y": {"field": "ly", "type": "quantitative", "scale": {"domain": [1.02, 3.7577], "nice": false, "zero": false}},
  "text": {"field": "v"}}}
]
},
{
"width": 986,
"height": 138,
"layer": [
{"data": {"values": [{"a":"2020-10-23T04:16Z","b":"2021-01-15T07:30Z"}]}, "mark": {"type": "rect", "color": "#505050"},
 "encoding": {"x": {"field": "a", "type": "temporal", "scale": {"type": "utc", "domain": [1603426560000, 1610426640000]}}, "x2": {"field": "b"},
  "y": {"datum": 100.0, "type": "quantitative", "scale": {"domain": [14.375, 100.625], "nice": false, "zero": false}}, "y2": {"datum": 96.25}}},
{"data": {"values": [{"a":"2020-10-23T04:16Z","b":"2021-01-12T04:44Z"}]}, "mark": {"type": "rect", "color": "#f2e4f3"},
 "encoding": {"x": {"field": "a", "type": "temporal", "scale": {"type": "utc", "domain": [1603426560000, 1610426640000]}}, "x2": {"field": "b"},
  "y": {"datum": 70, "type": "quantitative", "scale": {"domain": [14.375, 100.625], "nice": false, "zero": false}}, "y2": {"datum": 30}}},
{"data": {"values": [{"r": 70}, {"r": 30}]}, "mark": {"type": "rule", "color": "#8a8a8a", "strokeWidth": 1, "strokeDash": [5, 4]},
 "encoding": {"y": {"field": "r", "type": "quantitative", "scale": {"domain": [14.375, 100.625], "nice": false, "zero": false}}}},
{"data": {"name": "rsi"}, "mark": {"type": "line", "color": "#b96fcc", "strokeWidth": 1},
 "encoding": {"x": {"field": "t", "type": "temporal", "scale": {"type": "utc", "domain": [1603426560000, 1610426640000]},
   "axis": {"orient": "bottom", "values": [1603497600000, 1604188800000, 1604620800000, 1605052800000, 1605484800000, 1605916800000, 1606348800000, 1606780800000, 1607212800000, 1607644800000, 1608076800000, 1608508800000, 1608940800000, 1609459200000, 1609891200000, 1610323200000],
    "labelExpr": "utcdate(datum.value) == 1 ? (utcmonth(datum.value) == 0 ? utcFormat(datum.value, '%Y') : utcFormat(datum.value, '%b')) : utcFormat(datum.value, '%-d')",
    "title": null, "grid": false, "domainColor": "#a0a0a0", "tickColor": "#a0a0a0", "tickSize": 4, "labelColor": "#444444", "labelFontSize": 8.5, "labelFont": "Liberation Sans", "labelPadding": 3, "labelFlush": false, "labelOverlap": false}},
  "y": {"field": "r", "type": "quantitative", "scale": {"domain": [14.375, 100.625], "nice": false, "zero": false},
   "axis": {"orient": "right", "values": [20, 40, 60, 80], "format": ".4f", "title": null, "grid": false, "domainColor": "#a0a0a0", "tickColor": "#a0a0a0", "tickSize": 3, "labelColor": "#555555", "labelFontSize": 8.5, "labelFont": "Liberation Sans", "labelPadding": 2}}}},
{"data": {"values": [{"t":"2020-12-13T22:45Z","r":30},{"t":"2021-01-09T05:45Z","r":46.25}]},
 "mark": {"type": "line", "color": "#777777", "strokeWidth": 1.2, "strokeDash": [5, 4]},
 "encoding": {"x": {"field": "t", "type": "temporal", "scale": {"type": "utc", "domain": [1603426560000, 1610426640000]}},
  "y": {"field": "r", "type": "quantitative", "scale": {"domain": [14.375, 100.625], "nice": false, "zero": false}}}},
{"data": {"values": [{"t":"2020-10-27T20:41Z","r":88.75},{"t":"2020-10-28T22:19Z","r":88.75},{"t":"2020-10-30T00:00Z","r":88.75}]},
 "mark": {"type": "point", "shape": "square", "filled": true, "size": 100, "color": "#e2e2e2", "opacity": 1},
 "encoding": {"x": {"field": "t", "type": "temporal", "scale": {"type": "utc", "domain": [1603426560000, 1610426640000]}},
  "y": {"field": "r", "type": "quantitative", "scale": {"domain": [14.375, 100.625], "nice": false, "zero": false}}}},
{"data": {"values": [{"t":"2020-10-23T14:08Z","r":88.75,"s":"RSI (14)"}]},
 "mark": {"type": "text", "align": "left", "baseline": "middle", "fontSize": 9.5, "color": "#555555"},
 "encoding": {"x": {"field": "t", "type": "temporal", "scale": {"type": "utc", "domain": [1603426560000, 1610426640000]}},
  "y": {"field": "r", "type": "quantitative", "scale": {"domain": [14.375, 100.625], "nice": false, "zero": false}}, "text": {"field": "s"}}},
{"data": {"values": [{"t":"2020-10-26T15:06Z","r":88.75,"s":"▾"}]},
 "mark": {"type": "text", "align": "center", "baseline": "middle", "fontSize": 10, "color": "#bbbbbb", "font": "DejaVu Sans"},
 "encoding": {"x": {"field": "t", "type": "temporal", "scale": {"type": "utc", "domain": [1603426560000, 1610426640000]}},
  "y": {"field": "r", "type": "quantitative", "scale": {"domain": [14.375, 100.625], "nice": false, "zero": false}}, "text": {"field": "s"}}},
{"data": {"values": [{"t":"2020-10-31T03:34Z","r":88.75,"s":"52.4947"}]},
 "mark": {"type": "text", "align": "left", "baseline": "middle", "fontSize": 9.5, "color": "#9c27b0"},
 "encoding": {"x": {"field": "t", "type": "temporal", "scale": {"type": "utc", "domain": [1603426560000, 1610426640000]}},
  "y": {"field": "r", "type": "quantitative", "scale": {"domain": [14.375, 100.625], "nice": false, "zero": false}}, "text": {"field": "s"}}},
{"data": {"values": [{"t":"2021-01-13T18:12Z","r":52.4947,"v":"52.4947"}]},
 "mark": {"type": "tick", "orient": "horizontal", "size": 37, "thickness": 12, "color": "#8e1a8e", "opacity": 1},
 "encoding": {"x": {"field": "t", "type": "temporal", "scale": {"type": "utc", "domain": [1603426560000, 1610426640000]}},
  "y": {"field": "r", "type": "quantitative", "scale": {"domain": [14.375, 100.625], "nice": false, "zero": false}}}},
{"data": {"values": [{"t":"2021-01-13T18:12Z","r":52.4947,"v":"52.4947"}]},
 "mark": {"type": "text", "align": "center", "baseline": "middle", "fontSize": 8.5, "color": "#ffffff"},
 "encoding": {"x": {"field": "t", "type": "temporal", "scale": {"type": "utc", "domain": [1603426560000, 1610426640000]}},
  "y": {"field": "r", "type": "quantitative", "scale": {"domain": [14.375, 100.625], "nice": false, "zero": false}}, "text": {"field": "v"}}}
]
}
]
}
